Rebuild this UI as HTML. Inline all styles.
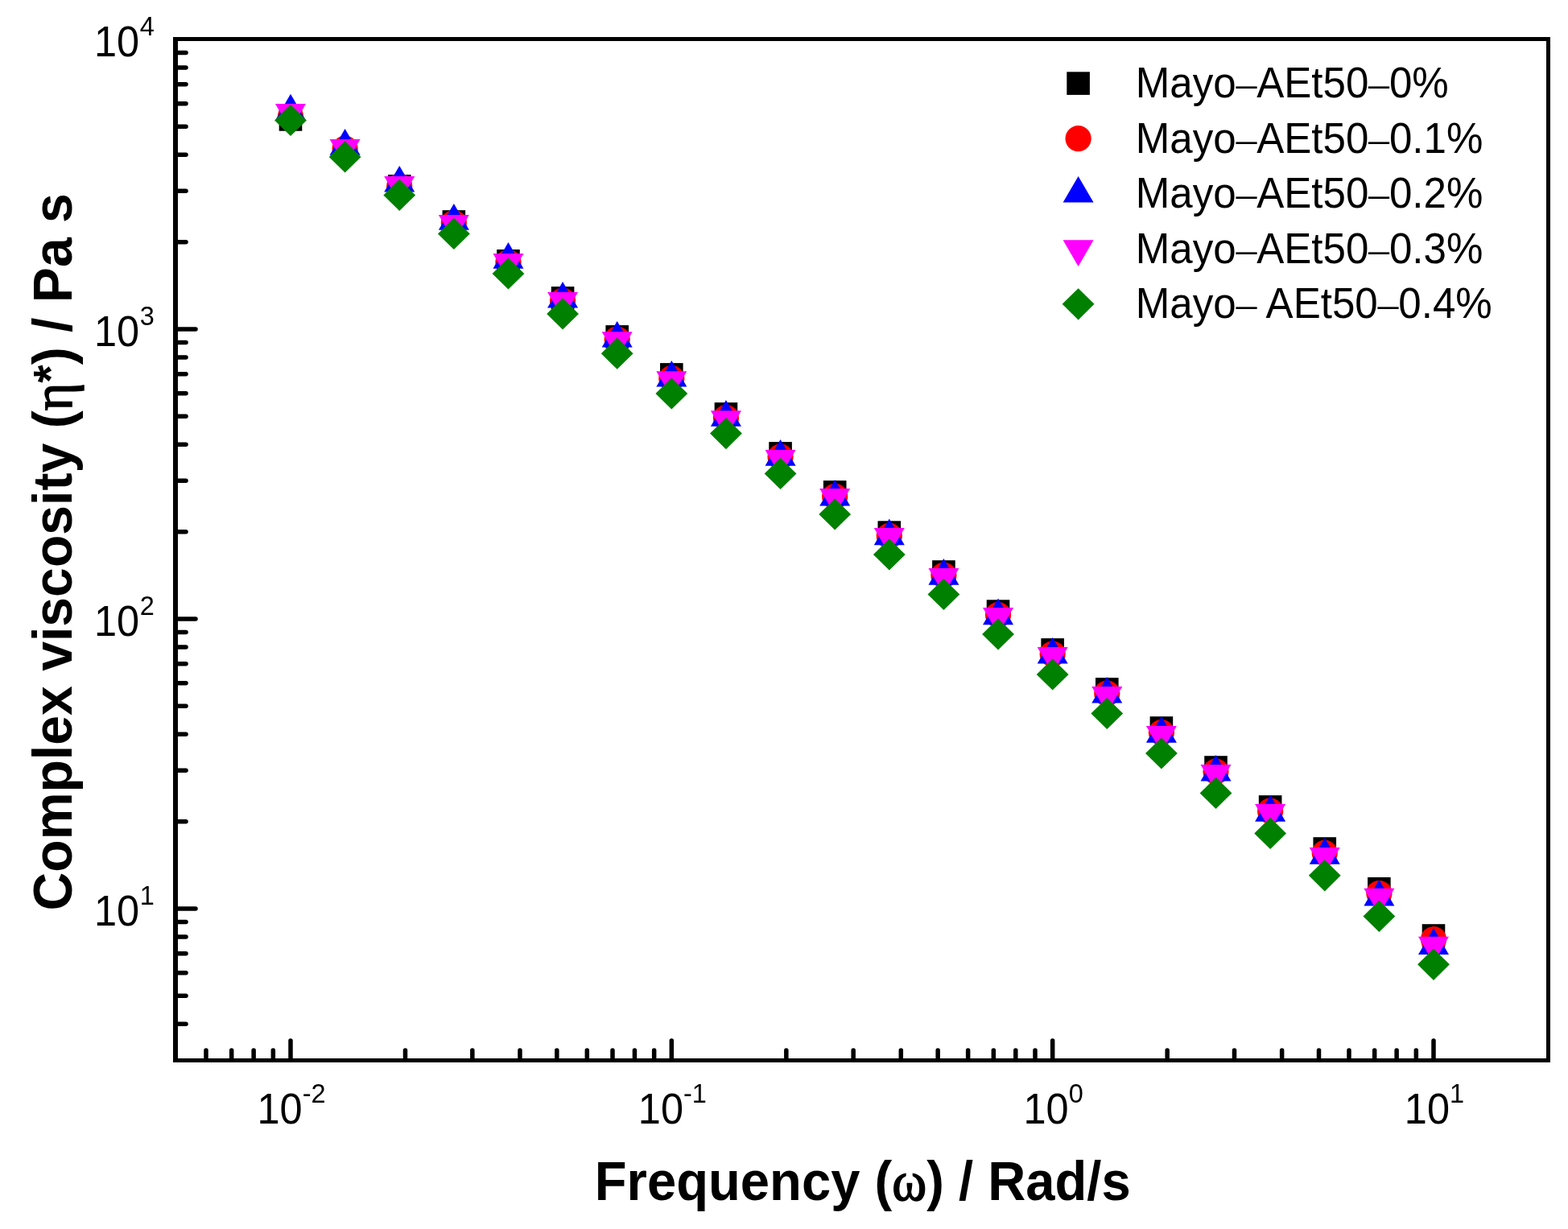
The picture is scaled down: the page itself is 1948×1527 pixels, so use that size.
<!DOCTYPE html><html><head><meta charset="utf-8"><style>html,body{margin:0;padding:0;background:#fff;overflow:hidden;}svg{display:block;}text{font-family:"Liberation Sans",sans-serif;}</style></head><body>
<svg width="1948" height="1527" viewBox="0 0 1948 1527">
<rect width="1948" height="1527" fill="#fff"/>
<g><rect x="346.70" y="134.10" width="28.6" height="28.6" fill="#000000"/><rect x="481.94" y="217.00" width="28.6" height="28.6" fill="#000000"/><rect x="549.56" y="261.20" width="28.6" height="28.6" fill="#000000"/><rect x="617.17" y="310.00" width="28.6" height="28.6" fill="#000000"/><rect x="684.79" y="356.10" width="28.6" height="28.6" fill="#000000"/><rect x="752.41" y="404.10" width="28.6" height="28.6" fill="#000000"/><rect x="820.03" y="451.10" width="28.6" height="28.6" fill="#000000"/><rect x="887.65" y="500.10" width="28.6" height="28.6" fill="#000000"/><rect x="955.27" y="549.10" width="28.6" height="28.6" fill="#000000"/><rect x="1022.89" y="597.10" width="28.6" height="28.6" fill="#000000"/><rect x="1090.50" y="647.30" width="28.6" height="28.6" fill="#000000"/><rect x="1158.12" y="696.20" width="28.6" height="28.6" fill="#000000"/><rect x="1225.74" y="745.30" width="28.6" height="28.6" fill="#000000"/><rect x="1293.36" y="793.10" width="28.6" height="28.6" fill="#000000"/><rect x="1360.98" y="842.10" width="28.6" height="28.6" fill="#000000"/><rect x="1428.60" y="890.20" width="28.6" height="28.6" fill="#000000"/><rect x="1496.22" y="939.20" width="28.6" height="28.6" fill="#000000"/><rect x="1563.83" y="988.20" width="28.6" height="28.6" fill="#000000"/><rect x="1631.45" y="1040.20" width="28.6" height="28.6" fill="#000000"/><rect x="1699.07" y="1090.00" width="28.6" height="28.6" fill="#000000"/><rect x="1766.69" y="1148.20" width="28.6" height="28.6" fill="#000000"/><circle cx="361.00" cy="145.00" r="16.1" fill="#ff0000"/><circle cx="428.62" cy="184.60" r="16.1" fill="#ff0000"/><circle cx="496.24" cy="231.40" r="16.1" fill="#ff0000"/><circle cx="563.86" cy="277.00" r="16.1" fill="#ff0000"/><circle cx="631.47" cy="326.00" r="16.1" fill="#ff0000"/><circle cx="699.09" cy="373.60" r="16.1" fill="#ff0000"/><circle cx="766.71" cy="421.50" r="16.1" fill="#ff0000"/><circle cx="834.33" cy="470.20" r="16.1" fill="#ff0000"/><circle cx="901.95" cy="519.20" r="16.1" fill="#ff0000"/><circle cx="969.57" cy="567.60" r="16.1" fill="#ff0000"/><circle cx="1037.19" cy="616.90" r="16.1" fill="#ff0000"/><circle cx="1104.80" cy="665.90" r="16.1" fill="#ff0000"/><circle cx="1172.42" cy="714.90" r="16.1" fill="#ff0000"/><circle cx="1240.04" cy="764.10" r="16.1" fill="#ff0000"/><circle cx="1307.66" cy="812.50" r="16.1" fill="#ff0000"/><circle cx="1375.28" cy="861.50" r="16.1" fill="#ff0000"/><circle cx="1442.90" cy="910.20" r="16.1" fill="#ff0000"/><circle cx="1510.52" cy="958.70" r="16.1" fill="#ff0000"/><circle cx="1578.13" cy="1007.70" r="16.1" fill="#ff0000"/><circle cx="1645.75" cy="1059.80" r="16.1" fill="#ff0000"/><circle cx="1713.37" cy="1110.00" r="16.1" fill="#ff0000"/><circle cx="1780.99" cy="1167.20" r="16.1" fill="#ff0000"/><polygon points="361.00,116.80 380.00,149.50 342.00,149.50" fill="#0000ff"/><polygon points="428.62,160.00 447.62,192.70 409.62,192.70" fill="#0000ff"/><polygon points="496.24,205.90 515.24,238.60 477.24,238.60" fill="#0000ff"/><polygon points="563.86,253.00 582.86,285.70 544.86,285.70" fill="#0000ff"/><polygon points="631.47,301.00 650.47,333.70 612.47,333.70" fill="#0000ff"/><polygon points="699.09,349.90 718.09,382.60 680.09,382.60" fill="#0000ff"/><polygon points="766.71,398.90 785.71,431.60 747.71,431.60" fill="#0000ff"/><polygon points="834.33,447.90 853.33,480.60 815.33,480.60" fill="#0000ff"/><polygon points="901.95,497.00 920.95,529.70 882.95,529.70" fill="#0000ff"/><polygon points="969.57,546.00 988.57,578.70 950.57,578.70" fill="#0000ff"/><polygon points="1037.19,595.90 1056.19,628.60 1018.19,628.60" fill="#0000ff"/><polygon points="1104.80,644.60 1123.80,677.30 1085.80,677.30" fill="#0000ff"/><polygon points="1172.42,694.10 1191.42,726.80 1153.42,726.80" fill="#0000ff"/><polygon points="1240.04,743.50 1259.04,776.20 1221.04,776.20" fill="#0000ff"/><polygon points="1307.66,791.90 1326.66,824.60 1288.66,824.60" fill="#0000ff"/><polygon points="1375.28,840.90 1394.28,873.60 1356.28,873.60" fill="#0000ff"/><polygon points="1442.90,890.10 1461.90,922.80 1423.90,922.80" fill="#0000ff"/><polygon points="1510.52,937.90 1529.52,970.60 1491.52,970.60" fill="#0000ff"/><polygon points="1578.13,988.00 1597.13,1020.70 1559.13,1020.70" fill="#0000ff"/><polygon points="1645.75,1041.00 1664.75,1073.70 1626.75,1073.70" fill="#0000ff"/><polygon points="1713.37,1092.90 1732.37,1125.60 1694.37,1125.60" fill="#0000ff"/><polygon points="1780.99,1153.20 1799.99,1185.90 1761.99,1185.90" fill="#0000ff"/><polygon points="361.00,161.60 380.00,128.90 342.00,128.90" fill="#ff00ff"/><polygon points="428.62,205.80 447.62,173.10 409.62,173.10" fill="#ff00ff"/><polygon points="496.24,251.70 515.24,219.00 477.24,219.00" fill="#ff00ff"/><polygon points="563.86,299.60 582.86,266.90 544.86,266.90" fill="#ff00ff"/><polygon points="631.47,347.80 650.47,315.10 612.47,315.10" fill="#ff00ff"/><polygon points="699.09,395.60 718.09,362.90 680.09,362.90" fill="#ff00ff"/><polygon points="766.71,444.90 785.71,412.20 747.71,412.20" fill="#ff00ff"/><polygon points="834.33,493.90 853.33,461.20 815.33,461.20" fill="#ff00ff"/><polygon points="901.95,542.90 920.95,510.20 882.95,510.20" fill="#ff00ff"/><polygon points="969.57,591.70 988.57,559.00 950.57,559.00" fill="#ff00ff"/><polygon points="1037.19,639.80 1056.19,607.10 1018.19,607.10" fill="#ff00ff"/><polygon points="1104.80,688.80 1123.80,656.10 1085.80,656.10" fill="#ff00ff"/><polygon points="1172.42,738.80 1191.42,706.10 1153.42,706.10" fill="#ff00ff"/><polygon points="1240.04,787.80 1259.04,755.10 1221.04,755.10" fill="#ff00ff"/><polygon points="1307.66,836.80 1326.66,804.10 1288.66,804.10" fill="#ff00ff"/><polygon points="1375.28,885.80 1394.28,853.10 1356.28,853.10" fill="#ff00ff"/><polygon points="1442.90,934.80 1461.90,902.10 1423.90,902.10" fill="#ff00ff"/><polygon points="1510.52,982.70 1529.52,950.00 1491.52,950.00" fill="#ff00ff"/><polygon points="1578.13,1031.70 1597.13,999.00 1559.13,999.00" fill="#ff00ff"/><polygon points="1645.75,1085.70 1664.75,1053.00 1626.75,1053.00" fill="#ff00ff"/><polygon points="1713.37,1136.50 1732.37,1103.80 1694.37,1103.80" fill="#ff00ff"/><polygon points="1780.99,1196.50 1799.99,1163.80 1761.99,1163.80" fill="#ff00ff"/><polygon points="361.00,129.90 380.90,149.50 361.00,169.10 341.10,149.50" fill="#008000"/><polygon points="428.62,175.30 448.52,194.90 428.62,214.50 408.72,194.90" fill="#008000"/><polygon points="496.24,222.80 516.14,242.40 496.24,262.00 476.34,242.40" fill="#008000"/><polygon points="563.86,270.80 583.76,290.40 563.86,310.00 543.96,290.40" fill="#008000"/><polygon points="631.47,320.40 651.37,340.00 631.47,359.60 611.57,340.00" fill="#008000"/><polygon points="699.09,370.40 718.99,390.00 699.09,409.60 679.19,390.00" fill="#008000"/><polygon points="766.71,419.60 786.61,439.20 766.71,458.80 746.81,439.20" fill="#008000"/><polygon points="834.33,469.40 854.23,489.00 834.33,508.60 814.43,489.00" fill="#008000"/><polygon points="901.95,519.00 921.85,538.60 901.95,558.20 882.05,538.60" fill="#008000"/><polygon points="969.57,568.90 989.47,588.50 969.57,608.10 949.67,588.50" fill="#008000"/><polygon points="1037.19,619.40 1057.09,639.00 1037.19,658.60 1017.29,639.00" fill="#008000"/><polygon points="1104.80,669.40 1124.70,689.00 1104.80,708.60 1084.90,689.00" fill="#008000"/><polygon points="1172.42,718.90 1192.32,738.50 1172.42,758.10 1152.52,738.50" fill="#008000"/><polygon points="1240.04,768.40 1259.94,788.00 1240.04,807.60 1220.14,788.00" fill="#008000"/><polygon points="1307.66,818.40 1327.56,838.00 1307.66,857.60 1287.76,838.00" fill="#008000"/><polygon points="1375.28,866.90 1395.18,886.50 1375.28,906.10 1355.38,886.50" fill="#008000"/><polygon points="1442.90,916.40 1462.80,936.00 1442.90,955.60 1423.00,936.00" fill="#008000"/><polygon points="1510.52,965.80 1530.42,985.40 1510.52,1005.00 1490.62,985.40" fill="#008000"/><polygon points="1578.13,1015.80 1598.03,1035.40 1578.13,1055.00 1558.23,1035.40" fill="#008000"/><polygon points="1645.75,1068.20 1665.65,1087.80 1645.75,1107.40 1625.85,1087.80" fill="#008000"/><polygon points="1713.37,1118.80 1733.27,1138.40 1713.37,1158.00 1693.47,1138.40" fill="#008000"/><polygon points="1780.99,1178.70 1800.89,1198.30 1780.99,1217.90 1761.09,1198.30" fill="#008000"/></g>
<g fill="#000">
<rect x="215" y="46" width="1711" height="5"/>
<rect x="215" y="1315" width="1711" height="5"/>
<rect x="215" y="46" width="6" height="1274"/>
<rect x="1921" y="46" width="5" height="1274"/>
</g>
<g stroke="#000" stroke-width="5.5" stroke-linecap="round"><line x1="218" y1="1129.00" x2="243" y2="1129.00"/><line x1="218" y1="769.00" x2="243" y2="769.00"/><line x1="218" y1="409.00" x2="243" y2="409.00"/><line x1="218" y1="1272.26" x2="231" y2="1272.26"/><line x1="218" y1="1237.37" x2="231" y2="1237.37"/><line x1="218" y1="1208.87" x2="231" y2="1208.87"/><line x1="218" y1="1184.76" x2="231" y2="1184.76"/><line x1="218" y1="1163.89" x2="231" y2="1163.89"/><line x1="218" y1="1145.47" x2="231" y2="1145.47"/><line x1="218" y1="1020.63" x2="231" y2="1020.63"/><line x1="218" y1="957.24" x2="231" y2="957.24"/><line x1="218" y1="912.26" x2="231" y2="912.26"/><line x1="218" y1="877.37" x2="231" y2="877.37"/><line x1="218" y1="848.87" x2="231" y2="848.87"/><line x1="218" y1="824.76" x2="231" y2="824.76"/><line x1="218" y1="803.89" x2="231" y2="803.89"/><line x1="218" y1="785.47" x2="231" y2="785.47"/><line x1="218" y1="660.63" x2="231" y2="660.63"/><line x1="218" y1="597.24" x2="231" y2="597.24"/><line x1="218" y1="552.26" x2="231" y2="552.26"/><line x1="218" y1="517.37" x2="231" y2="517.37"/><line x1="218" y1="488.87" x2="231" y2="488.87"/><line x1="218" y1="464.76" x2="231" y2="464.76"/><line x1="218" y1="443.89" x2="231" y2="443.89"/><line x1="218" y1="425.47" x2="231" y2="425.47"/><line x1="218" y1="300.63" x2="231" y2="300.63"/><line x1="218" y1="237.24" x2="231" y2="237.24"/><line x1="218" y1="192.26" x2="231" y2="192.26"/><line x1="218" y1="157.37" x2="231" y2="157.37"/><line x1="218" y1="128.87" x2="231" y2="128.87"/><line x1="218" y1="104.76" x2="231" y2="104.76"/><line x1="218" y1="83.89" x2="231" y2="83.89"/><line x1="218" y1="65.47" x2="231" y2="65.47"/><line x1="361.00" y1="1317" x2="361.00" y2="1293"/><line x1="834.33" y1="1317" x2="834.33" y2="1293"/><line x1="1307.66" y1="1317" x2="1307.66" y2="1293"/><line x1="1780.99" y1="1317" x2="1780.99" y2="1293"/><line x1="255.99" y1="1317" x2="255.99" y2="1305"/><line x1="287.68" y1="1317" x2="287.68" y2="1305"/><line x1="315.13" y1="1317" x2="315.13" y2="1305"/><line x1="339.34" y1="1317" x2="339.34" y2="1305"/><line x1="503.49" y1="1317" x2="503.49" y2="1305"/><line x1="586.84" y1="1317" x2="586.84" y2="1305"/><line x1="645.97" y1="1317" x2="645.97" y2="1305"/><line x1="691.84" y1="1317" x2="691.84" y2="1305"/><line x1="729.32" y1="1317" x2="729.32" y2="1305"/><line x1="761.01" y1="1317" x2="761.01" y2="1305"/><line x1="788.46" y1="1317" x2="788.46" y2="1305"/><line x1="812.67" y1="1317" x2="812.67" y2="1305"/><line x1="976.82" y1="1317" x2="976.82" y2="1305"/><line x1="1060.17" y1="1317" x2="1060.17" y2="1305"/><line x1="1119.30" y1="1317" x2="1119.30" y2="1305"/><line x1="1165.17" y1="1317" x2="1165.17" y2="1305"/><line x1="1202.65" y1="1317" x2="1202.65" y2="1305"/><line x1="1234.34" y1="1317" x2="1234.34" y2="1305"/><line x1="1261.79" y1="1317" x2="1261.79" y2="1305"/><line x1="1286.00" y1="1317" x2="1286.00" y2="1305"/><line x1="1450.15" y1="1317" x2="1450.15" y2="1305"/><line x1="1533.50" y1="1317" x2="1533.50" y2="1305"/><line x1="1592.63" y1="1317" x2="1592.63" y2="1305"/><line x1="1638.50" y1="1317" x2="1638.50" y2="1305"/><line x1="1675.98" y1="1317" x2="1675.98" y2="1305"/><line x1="1707.67" y1="1317" x2="1707.67" y2="1305"/><line x1="1735.12" y1="1317" x2="1735.12" y2="1305"/><line x1="1759.33" y1="1317" x2="1759.33" y2="1305"/></g>
<g fill="#000"><text transform="translate(117.0,1149.60) scale(0.935,1)" font-size="54">10</text><text x="173.7" y="1123.80" font-size="32.5">1</text><text transform="translate(117.0,789.60) scale(0.935,1)" font-size="54">10</text><text x="173.7" y="763.80" font-size="32.5">2</text><text transform="translate(117.0,429.60) scale(0.935,1)" font-size="54">10</text><text x="173.7" y="403.80" font-size="32.5">3</text><text transform="translate(117.0,69.60) scale(0.935,1)" font-size="54">10</text><text x="173.7" y="43.80" font-size="32.5">4</text><text transform="translate(319.47,1395.6) scale(0.935,1)" font-size="54">10</text><text x="375.63" y="1369.9" font-size="32.5">-2</text><text transform="translate(792.80,1395.6) scale(0.935,1)" font-size="54">10</text><text x="848.96" y="1369.9" font-size="32.5">-1</text><text transform="translate(1271.54,1395.6) scale(0.935,1)" font-size="54">10</text><text x="1327.70" y="1369.9" font-size="32.5">0</text><text transform="translate(1744.87,1395.6) scale(0.935,1)" font-size="54">10</text><text x="1801.03" y="1369.9" font-size="32.5">1</text></g>
<text transform="translate(738.74,1490.8) scale(0.941,1)" font-size="69.3" font-weight="bold" fill="#000">Frequency (<tspan font-family="Liberation Serif, serif" font-weight="normal" stroke="#000" stroke-width="1.6">ω</tspan>) / Rad/s</text>
<text transform="translate(89.2,1131.51) rotate(-90) scale(0.9587,1)" font-size="69" font-weight="bold" fill="#000">Complex viscosity (<tspan font-family="Liberation Serif, serif" font-weight="normal" stroke="#000" stroke-width="1.6">η</tspan><tspan font-size="60" dy="-6">*</tspan><tspan dy="6">) / Pa s</tspan></text>
<g><rect x="1325.30" y="89.30" width="28.6" height="28.6" fill="#000000"/><circle cx="1339.60" cy="172.15" r="16.1" fill="#ff0000"/><polygon points="1339.60,218.90 1358.60,251.60 1320.60,251.60" fill="#0000ff"/><polygon points="1339.60,331.05 1358.60,298.35 1320.60,298.35" fill="#ff00ff"/><polygon points="1339.60,358.20 1359.50,377.80 1339.60,397.40 1319.70,377.80" fill="#008000"/><text transform="translate(1410.71,121.20) scale(0.964,1)" font-size="53" xml:space="preserve">Mayo<tspan font-family="Liberation Serif, serif">–</tspan>AEt50<tspan font-family="Liberation Serif, serif">–</tspan>0%</text><text transform="translate(1410.71,189.75) scale(0.964,1)" font-size="53" xml:space="preserve">Mayo<tspan font-family="Liberation Serif, serif">–</tspan>AEt50<tspan font-family="Liberation Serif, serif">–</tspan>0.1%</text><text transform="translate(1410.71,258.30) scale(0.964,1)" font-size="53" xml:space="preserve">Mayo<tspan font-family="Liberation Serif, serif">–</tspan>AEt50<tspan font-family="Liberation Serif, serif">–</tspan>0.2%</text><text transform="translate(1410.71,326.85) scale(0.964,1)" font-size="53" xml:space="preserve">Mayo<tspan font-family="Liberation Serif, serif">–</tspan>AEt50<tspan font-family="Liberation Serif, serif">–</tspan>0.3%</text><text transform="translate(1410.71,395.40) scale(0.964,1)" font-size="53" xml:space="preserve">Mayo<tspan font-family="Liberation Serif, serif">–</tspan> AEt50<tspan font-family="Liberation Serif, serif">–</tspan>0.4%</text></g>
</svg></body></html>
